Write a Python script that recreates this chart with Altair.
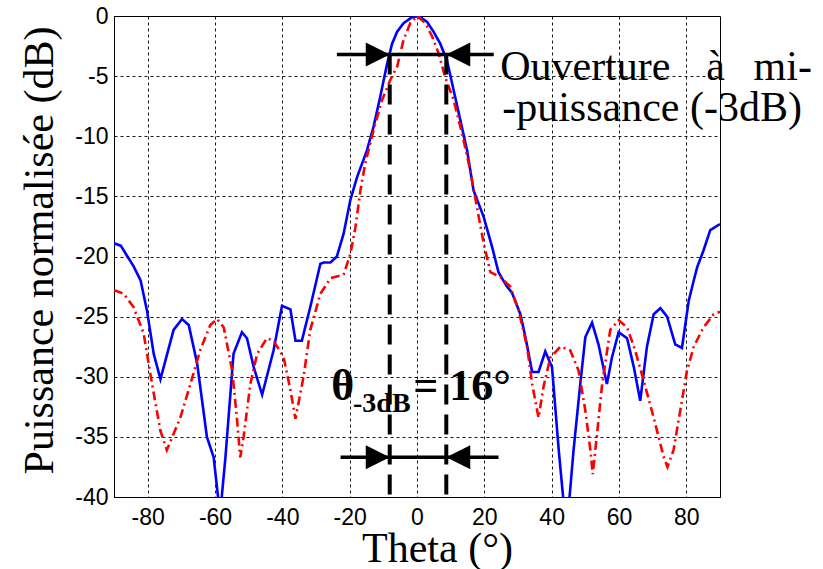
import altair as alt
import pandas as pd

# ---- data ----
theta_blue = [-90, -88, -86, -84.2, -82.1, -80.2, -78.2, -76.2, -72.3, -69.8, -67.8, -65.3, -62.4, -60.4,
              -58.5, -56.9, -54.5, -52, -50.5, -48.5, -46, -42.6, -40.1, -37.6, -36.1, -34.2, -31.7,
              -28.7, -27.7, -25.7, -23.8, -21.8, -19.8, -17.8, -14.9, -12.9, -10.9, -8.9, -7.4, -5.9,
              -4.0, -1.5, 0.5, 3.0, 4.9, 6.9, 8.9, 10.9, 12.9, 14.9, 16.8, 19.8, 22.3, 24.2, 26.7, 28.2,
              30.7, 32.2, 34.2, 36.1, 38.1, 40.1, 42.1, 44.4, 46.5, 48.5, 50.0, 52.0, 53.9, 55.4, 56.4,
              57.9, 59.9, 62.4, 64.4, 66.3, 68.3, 70.3, 72.3, 74.3, 76.7, 78.7, 80.7, 82.2, 83.2, 85.1,
              87.1, 90]
db_blue = [-18.9, -19.1, -20.0, -20.8, -22.0, -24.5, -28.1, -30.2, -26.1, -25.2, -25.7, -28.9, -35.0, -36.7,
           -41.5, -36.7, -28.1, -26.3, -26.8, -29.2, -31.5, -27.8, -24.1, -24.4, -27.0, -27.0, -24.2,
           -20.6, -20.5, -20.5, -20.0, -18.1, -15.3, -13.4, -11.2, -9.2, -6.7, -4.0, -2.3, -1.3,
           -0.6, -0.1, 0.0, -0.5, -1.3, -2.3, -3.7, -6.2, -8.7, -11.2, -14.5, -16.7, -19.2, -21.3, -22.5, -23.0,
           -24.8, -26.7, -29.6, -29.6, -27.9, -29.2, -36.1, -43.0, -36.1, -30.6, -26.7, -25.5, -27.3, -29.3, -30.6,
           -28.4, -26.3, -26.8, -29.2, -32.0, -27.5, -24.8, -24.3, -25.0, -27.3, -27.6, -23.7, -22.0, -20.9, -19.5,
           -17.8, -17.3]

theta_red = [-90, -87.1, -84.2, -81.2, -78.7, -76.2, -74.3, -70.3, -67.3, -64.4, -61.4, -59.4, -57.4, -54.9,
             -53.5, -52.5, -51.5, -49.5, -47.5, -44.6, -42.6, -39.6, -37.6, -36.1, -33.7, -31.7, -28.7,
             -25.7, -21.8, -19.8, -18.3, -16.8, -15.4, -12.9, -10.4, -7.9, -5.9, -4.0, -2.0, 0.0, 2.5,
             4.5, 6.4, 8.4, 10.9, 13.4, 15.8, 17.8, 19.8, 21.8, 24.7, 27.7, 30.2, 32.7, 34.2, 36.1, 37.6,
             39.6, 42.6, 45.5, 48.0, 50.0, 51.5, 52.2, 53.5, 55.0, 57.4, 59.9, 62.4, 64.8, 67.3, 70.3,
             73.3, 74.4, 76.2, 78.2, 80.2, 82.2, 85.1, 88.1, 90]
db_red = [-22.8, -23.1, -24.2, -26.4, -30.6, -34.5, -36.1, -33.4, -30.6, -27.8, -25.7, -25.2, -25.9, -29.5,
          -33.4, -36.7, -35.0, -30.6, -28.1, -26.8, -27.0, -28.4, -31.1, -33.5, -30.0, -26.1, -23.1,
          -21.8, -21.5, -19.8, -17.6, -14.5, -12.3, -9.5, -7.0, -5.3, -4.2, -2.0, -0.6, 0.0, -0.6,
          -1.7, -3.1, -5.1, -7.0, -9.8, -12.8, -15.9, -18.9, -21.3, -21.7, -22.5, -24.5, -27.5, -30.6, -33.4, -30.8,
          -28.4, -27.5, -27.8, -29.5, -32.8, -36.1, -38.1, -34.7, -30.6, -26.1, -25.3, -25.9, -27.8, -30.3, -33.4,
          -36.7, -37.5, -36.1, -32.8, -29.5, -27.5, -25.9, -24.8, -24.6]

x_ticks = [-80, -60, -40, -20, 0, 20, 40, 60, 80]
y_ticks = [0, -5, -10, -15, -20, -25, -30, -35, -40]

# half-power beamwidth markers
bw_left, bw_right = -8.1, 8.7
bw_level = -3.2
bottom_level = -36.7

df_blue = pd.DataFrame({"theta": theta_blue, "db": db_blue})
df_red = pd.DataFrame({"theta": theta_red, "db": db_red})

xs = alt.Scale(domain=[-90, 90], nice=False, zero=False)
ys = alt.Scale(domain=[-40, 0], nice=False, zero=False)

x_axis = alt.Axis(values=x_ticks, title="Theta (°)", labelExpr="toString(datum.value)",
                  labelPadding=9, titleX=323, titleY=64, titleBaseline="alphabetic", titleAlign="center")
y_axis = alt.Axis(values=y_ticks, title="Puissance normalisée (dB)", labelExpr="toString(datum.value)",
                  labelPadding=6, titleX=-62, titleY=234, titleAngle=270, titleBaseline="alphabetic",
                  titleAlign="center")


def X(field="theta"):
    return alt.X(f"{field}:Q", scale=xs, axis=x_axis, title="Theta (°)")


def Y(field="db"):
    return alt.Y(f"{field}:Q", scale=ys, axis=y_axis, title="Puissance normalisée (dB)")


blue = alt.Chart(df_blue).mark_line(color="#0000FF", strokeWidth=2.6, clip=True).encode(
    x=X(), y=Y(), order="theta:Q")
red = alt.Chart(df_red).mark_line(color="#FF0000", strokeWidth=2.6, strokeDash=[9, 4, 2, 4], clip=True).encode(
    x=X(), y=Y(), order="theta:Q")

# horizontal arrow shafts
shafts = pd.DataFrame({"theta": [-23.8, -22.7], "theta2": [22.8, 24.2], "db": [bw_level, bottom_level]})
shaft = alt.Chart(shafts).mark_rule(color="black", strokeWidth=3.5).encode(
    x=X(), x2="theta2:Q", y=Y())

# vertical dashed lines
verts = pd.DataFrame({"theta": [bw_left, bw_right], "db": [bw_level, bw_level], "db2": [-40, -40]})
vert = alt.Chart(verts).mark_rule(color="black", strokeWidth=4, strokeDash=[20, 10]).encode(
    x=X(), y=Y(), y2="db2:Q")

# arrowheads
heads_r = pd.DataFrame({"theta": [bw_left, bw_left], "db": [bw_level, bottom_level]})
heads_l = pd.DataFrame({"theta": [bw_right, bw_right], "db": [bw_level, bottom_level]})
head_r = alt.Chart(heads_r).mark_point(shape="M0,0L-1,-0.5L-1,0.5Z", filled=True, color="black",
                                       opacity=1, size=2300, strokeWidth=0).encode(x=X(), y=Y())
head_l = alt.Chart(heads_l).mark_point(shape="M0,0L1,-0.5L1,0.5Z", filled=True, color="black",
                                       opacity=1, size=2300, strokeWidth=0).encode(x=X(), y=Y())


# annotation texts
def txt(df, size, weight="normal", align="left"):
    return alt.Chart(df).mark_text(font="Liberation Serif", fontSize=size, fontWeight=weight,
                                   align=align, baseline="alphabetic", color="black").encode(
        x=X(), y=Y(), text="t:N")


t_left = pd.DataFrame({"theta": [24.7, 85.9, 25.3], "db": [-5.35, -5.35, -8.7],
                       "t": ["Ouverture", "à", "-puissance (-3dB)"]})
t_right = pd.DataFrame({"theta": [117.3], "db": [-5.35], "t": ["mi-"]})
t_theta = pd.DataFrame({"theta": [-25.5], "db": [-31.95], "t": ["θ"]})
t_sub = pd.DataFrame({"theta": [-19.0], "db": [-32.9], "t": ["-3dB"]})
t_val = pd.DataFrame({"theta": [-1.1], "db": [-31.95], "t": ["= 16°"]})

chart = alt.layer(
    blue, red, vert, shaft, head_r, head_l,
    txt(t_left, 42), txt(t_right, 42, align="right"),
    txt(t_theta, 44, "bold"), txt(t_sub, 28, "bold"), txt(t_val, 44, "bold"),
).properties(
    width=606, height=481,
    autosize=alt.AutoSizeParams(type="none"),
    padding={"left": 114, "top": 16, "right": 103, "bottom": 72},
    background="white",
).configure_view(
    stroke="black", strokeWidth=1
).configure_axis(
    domainColor="black", domainWidth=1, grid=True, gridColor="#000000", gridDash=[3, 3],
    gridWidth=0.9, gridOpacity=1, ticks=False,
    labelFont="Liberation Sans", labelFontSize=23, labelColor="black",
    titleFont="Liberation Serif", titleFontSize=42, titleFontWeight="normal", titleColor="black",
)

chart.save("out.html", embed_options={"renderer": "svg", "actions": False})
